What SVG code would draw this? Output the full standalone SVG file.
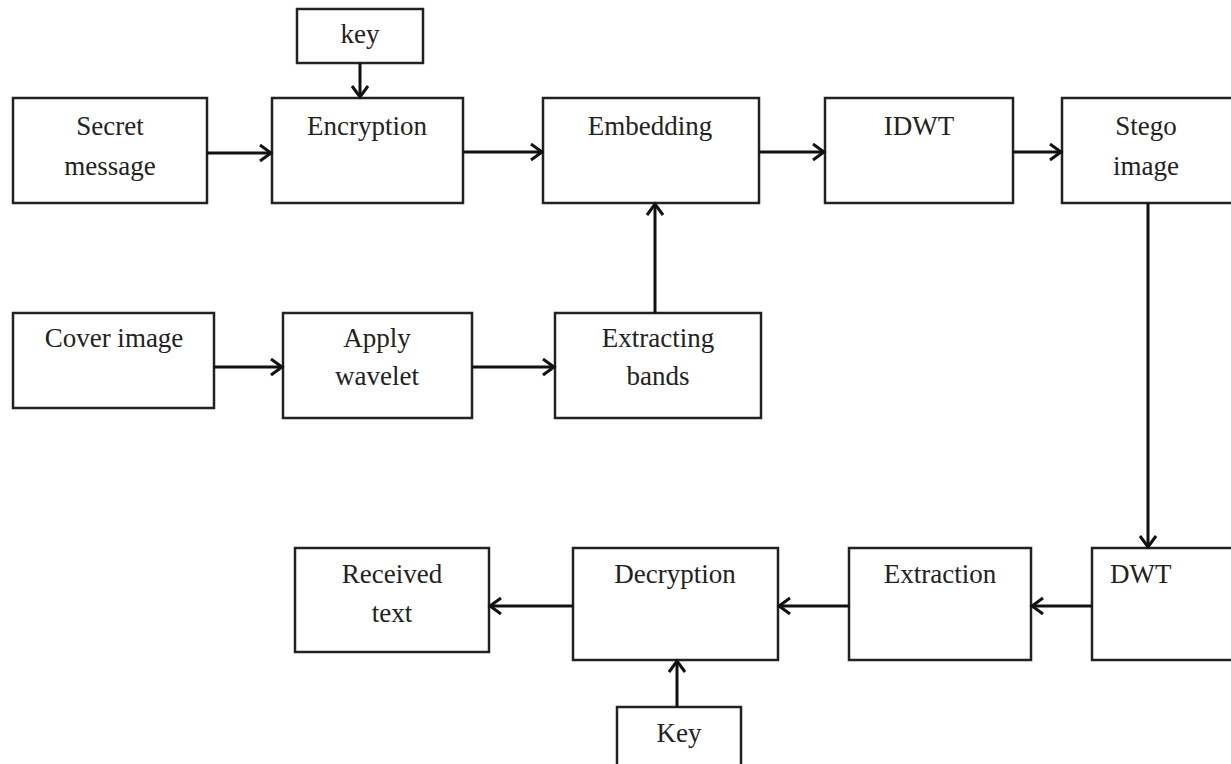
<svg xmlns="http://www.w3.org/2000/svg" width="1231" height="764" viewBox="0 0 1231 764">
<style>
.box{fill:#fff;stroke:#222;stroke-width:2.5}
.t{font-family:"Liberation Serif","Times New Roman",serif;font-size:27px;fill:#222;text-anchor:middle}
.tl{font-family:"Liberation Serif","Times New Roman",serif;font-size:27px;fill:#222}
.c{fill:none;stroke:#111;stroke-width:3}
</style>
<defs>
<marker id="ah" markerUnits="userSpaceOnUse" markerWidth="16" markerHeight="20" refX="13" refY="9" orient="auto">
<path d="M2,1 L13,9 L2,17" fill="none" stroke="#111" stroke-width="3"/>
</marker>
</defs>
<rect width="1231" height="764" fill="#fff"/>
<g id="key1"><rect class="box" x="297" y="9" width="126" height="54"/><text class="t" x="360" y="43">key</text></g>
<g id="secret"><rect class="box" x="13" y="98" width="194" height="105"/><text class="t" x="110" y="135">Secret</text><text class="t" x="110" y="175">message</text></g>
<g id="encryption"><rect class="box" x="272" y="98" width="191" height="105"/><text class="t" x="367" y="135">Encryption</text></g>
<g id="embedding"><rect class="box" x="543" y="98" width="216" height="105"/><text class="t" x="650" y="135">Embedding</text></g>
<g id="idwt"><rect class="box" x="825" y="98" width="188" height="105"/><text class="t" x="919" y="135">IDWT</text></g>
<g id="stego"><rect class="box" x="1062" y="98" width="180" height="105"/><text class="t" x="1146" y="135">Stego</text><text class="t" x="1146" y="175">image</text></g>
<g id="cover"><rect class="box" x="13" y="313" width="201" height="95"/><text class="t" x="114" y="347">Cover image</text></g>
<g id="wavelet"><rect class="box" x="283" y="313" width="189" height="105"/><text class="t" x="377" y="347">Apply</text><text class="t" x="377" y="385">wavelet</text></g>
<g id="bands"><rect class="box" x="555" y="313" width="206" height="105"/><text class="t" x="658" y="347">Extracting</text><text class="t" x="658" y="385">bands</text></g>
<g id="received"><rect class="box" x="295" y="548" width="194" height="104"/><text class="t" x="392" y="583">Received</text><text class="t" x="392" y="622">text</text></g>
<g id="decryption"><rect class="box" x="573" y="548" width="205" height="112"/><text class="t" x="675" y="583">Decryption</text></g>
<g id="extraction"><rect class="box" x="849" y="548" width="182" height="112"/><text class="t" x="940" y="583">Extraction</text></g>
<g id="dwt"><rect class="box" x="1092" y="548" width="150" height="112"/><text class="tl" x="1110" y="583">DWT</text></g>
<g id="key2"><rect class="box" x="617" y="707" width="124" height="70"/><text class="t" x="679" y="742">Key</text></g>
<g id="connectors">
<path class="c" d="M360,63 V97" marker-end="url(#ah)"/>
<path class="c" d="M207,153 H271" marker-end="url(#ah)"/>
<path class="c" d="M463,152 H542" marker-end="url(#ah)"/>
<path class="c" d="M759,152 H824" marker-end="url(#ah)"/>
<path class="c" d="M1013,152 H1061" marker-end="url(#ah)"/>
<path class="c" d="M655,313 V204" marker-end="url(#ah)"/>
<path class="c" d="M214,367 H282" marker-end="url(#ah)"/>
<path class="c" d="M472,367 H554" marker-end="url(#ah)"/>
<path class="c" d="M1148,203 V547" marker-end="url(#ah)"/>
<path class="c" d="M1092,606 H1032" marker-end="url(#ah)"/>
<path class="c" d="M849,606 H779" marker-end="url(#ah)"/>
<path class="c" d="M573,606 H490" marker-end="url(#ah)"/>
<path class="c" d="M677,707 V661" marker-end="url(#ah)"/>
</g>
</svg>
